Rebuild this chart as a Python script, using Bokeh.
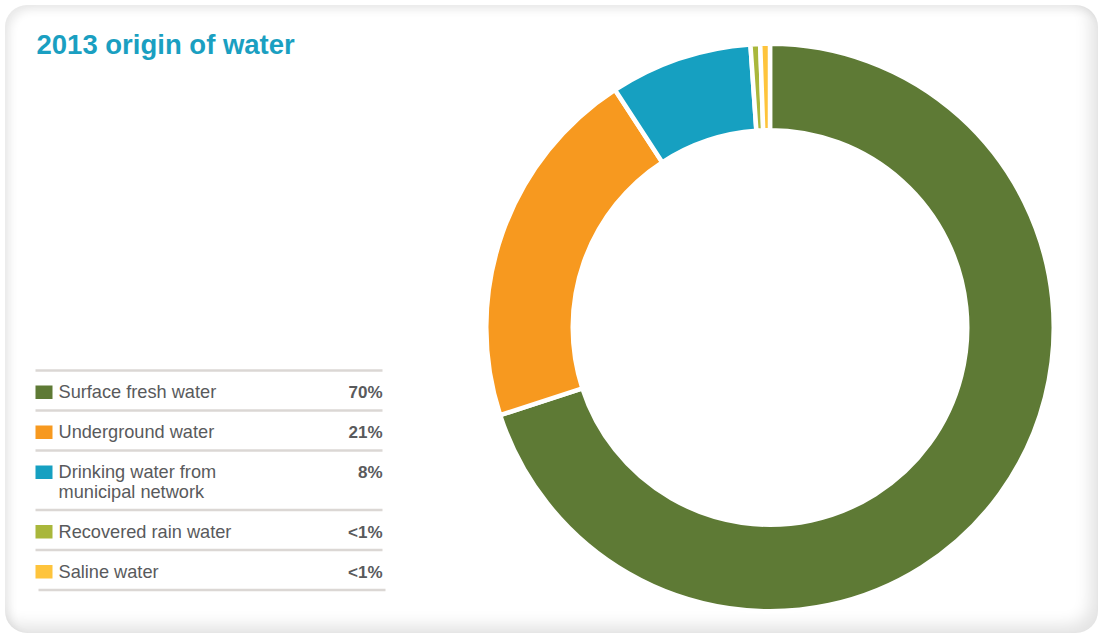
import math
from bokeh.plotting import figure
from bokeh.models import Range1d, ColumnDataSource, InlineStyleSheet
from bokeh.core.properties import value
from bokeh.embed import file_html
from bokeh.resources import INLINE

# ---------------- data ----------------
title_text = "2013 origin of water"
categories = ["Surface fresh water", "Underground water",
              "Drinking water from\nmunicipal network",
              "Recovered rain water", "Saline water"]
shares = [70.0, 20.8, 8.1, 0.55, 0.55]
share_labels = ["70%", "21%", "8%", "<1%", "<1%"]
colors = ["#5e7a35", "#f7991f", "#16a0c1", "#a9b73b", "#fec43c"]

# ---------------- figure ----------------
OFF = 5
W, H = 1093, 628
p = figure(width=W, height=H, x_range=Range1d(0, W), y_range=Range1d(0, H),
           output_backend="svg", toolbar_location=None, min_border=0)
p.axis.visible = False
p.grid.visible = False
p.outline_line_color = None
p.background_fill_color = None
p.border_fill_color = None
p.stylesheets = [InlineStyleSheet(css=""":host {
  margin: 5px 0 0 5px;
  background: #ffffff;
  border-radius: 22px;
  box-shadow: inset -8px -8px 16px rgba(0,0,0,0.11), inset 5px 5px 9px rgba(0,0,0,0.08);
}""")]

def fy(ref_y):
    return H + OFF - ref_y

def fx(ref_x):
    return ref_x - OFF

FONT = value("Liberation Sans")
TITLE_FS, LEG_FS, PCT_FS = 27.5, 18.2, 17.0
SHIFT = 0.4  # baseline correction (em)

# ---------------- donut ----------------
cx, cy = fx(769.5), fy(327)
r_out, r_in, gap = 281.5, 199.5, 4.5
total = sum(shares)
starts, ends = [], []
cum = 0.0
for s in shares:
    starts.append(math.pi / 2 - 2 * math.pi * cum / total)
    cum += s
    ends.append(math.pi / 2 - 2 * math.pi * cum / total)
src = ColumnDataSource(dict(start=starts, end=ends, color=colors))
p.annular_wedge(x=cx, y=cy, inner_radius=r_in - gap / 2, outer_radius=r_out + gap / 2,
                start_angle="start", end_angle="end", direction="clock",
                fill_color="color", line_color="white", line_width=gap, source=src)

# ---------------- title ----------------
p.text(x=[fx(36)], y=[fy(55 - SHIFT * TITLE_FS)], text=[title_text], text_font=FONT,
       text_font_style="bold", text_font_size=f"{TITLE_FS}px", text_color="#1a9fc1",
       text_baseline="alphabetic", text_align="left")

# ---------------- legend table ----------------
row_top = 370.0
sep_x0, sep_x1 = [], []
sep_y = []
sq_l, sq_r, sq_t, sq_b = [], [], [], []
tx, ty, tt = [], [], []
px_, py_, pt_ = [], [], []
for cat, lab in zip(categories, share_labels):
    lines = cat.split("\n")
    sep_x0.append(fx(35)); sep_x1.append(fx(382)); sep_y.append(fy(row_top))
    sq_l.append(fx(35)); sq_r.append(fx(52)); sq_t.append(fy(row_top + 15)); sq_b.append(fy(row_top + 28.5))
    for k, ln in enumerate(lines):
        tx.append(fx(58)); ty.append(fy(row_top + 29 + 20 * k - SHIFT * LEG_FS)); tt.append(ln)
    px_.append(fx(382)); py_.append(fy(row_top + 29 - SHIFT * PCT_FS)); pt_.append(lab)
    row_top += 40 + 19.5 * (len(lines) - 1)
sep_x0.append(fx(38)); sep_x1.append(fx(385)); sep_y.append(fy(row_top))

p.segment(x0=sep_x0, x1=sep_x1, y0=sep_y, y1=sep_y, line_color="#dbd7d4", line_width=2.5)
p.quad(left=sq_l, right=sq_r, top=sq_t, bottom=sq_b, fill_color=colors, line_color=None)
p.text(x=tx, y=ty, text=tt, text_font=FONT, text_font_size=f"{LEG_FS}px",
       text_color="#595a5c", text_baseline="alphabetic", text_align="left")
p.text(x=px_, y=py_, text=pt_, text_font=FONT, text_font_style="bold",
       text_font_size=f"{PCT_FS}px", text_color="#595a5c", text_baseline="alphabetic",
       text_align="right")

open("out.html", "w").write(file_html(p, INLINE))
